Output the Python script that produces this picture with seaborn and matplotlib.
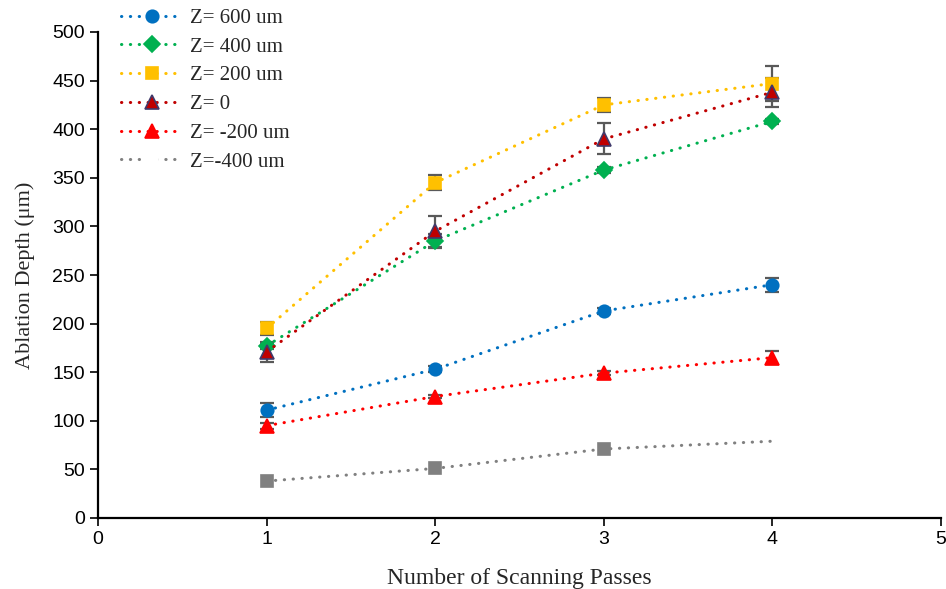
import matplotlib
matplotlib.use("Agg")
import matplotlib.pyplot as plt
import seaborn as sns
import pandas as pd

passes = [1, 2, 3, 4]
labels = ["Z= 600 um", "Z= 400 um", "Z= 200 um", "Z= 0", "Z= -200 um", "Z=-400 um"]
z600 = [111, 153, 213, 240]
z400 = [177, 285, 358, 408]
z200 = [195, 345, 425, 447]
z0 = [171, 295, 390, 438]
zm200 = [95, 125, 149, 165]
zm400 = [38, 51, 71, 79]
err600 = [7, 3, 3, 7]
err400 = [3, 7, 3, 3]
err200 = [7, 8, 7, 18]
err0 = [10, 16, 16, 15]
errm200 = [3, 2, 2, 7]
errm400 = [0, 0, 0, 0]

values = [z600, z400, z200, z0, zm200, zm400]
errors = [err600, err400, err200, err0, errm200, errm400]
colors = ["#0070C0", "#00B050", "#FFC000", "#C00000", "#FF0000", "#808080"]
markers = ["o", "D", "s", "^", "^", "s"]
msizes = [9, 8, 8.5, 9.5, 9.5, 8.5]
edgecolors = ["#0070C0", "#00B050", "#FFC000", "#403A6B", "#FF0000", "#808080"]

sns.set_style("white")
plt.rcParams["font.family"] = ["Liberation Serif", "DejaVu Serif"]

fig = plt.figure(figsize=(9.46, 5.89), dpi=100)
ax = fig.add_axes([98 / 946, 1 - 518 / 589, (941 - 98) / 946, (518 - 32) / 589])

dot = (0, (0.1, 2.8))
for i in range(6):
    df = pd.DataFrame({"x": passes, "y": values[i]})
    if any(errors[i]):
        ax.errorbar(passes, values[i], yerr=errors[i], fmt="none", ecolor="#595959",
                    elinewidth=1.6, capsize=5, capthick=1.6, zorder=2)
    kw = {}
    if i == 5:
        kw["markevery"] = [0, 1, 2]
    sns.lineplot(data=df, x="x", y="y", ax=ax, color=colors[i], marker=markers[i],
                 markersize=msizes[i], markeredgecolor=edgecolors[i], markeredgewidth=1.2,
                 linestyle=dot, linewidth=2.2, dash_capstyle="round", zorder=3,
                 label=labels[i], **kw)

ax.set_xlim(0, 5)
ax.set_ylim(0, 500)
ax.set_xticks(range(0, 6))
ax.set_yticks(range(0, 501, 50))
for s in ["top", "right"]:
    ax.spines[s].set_visible(False)
for s in ["left", "bottom"]:
    ax.spines[s].set_color("black")
    ax.spines[s].set_linewidth(1.6)
ax.tick_params(axis="both", which="major", direction="out", length=6, width=1.2,
               colors="black", labelsize=14, left=True, bottom=True)
for lab in ax.get_xticklabels() + ax.get_yticklabels():
    lab.set_fontfamily("Liberation Sans")
ax.set_xlabel("Number of Scanning Passes", fontsize=17, labelpad=14)
ax.set_ylabel("Ablation Depth (μm)", fontsize=16, labelpad=12)
ax.grid(False)

leg = ax.legend(loc="upper left", bbox_to_anchor=(113 / 946, 1.0), bbox_transform=fig.transFigure,
                frameon=False, fontsize=15, handlelength=2.9, handletextpad=0.4,
                labelspacing=0.44, borderaxespad=0.0)
gray_handle = leg.legend_handles[5]
gray_handle.set_markerfacecolor("white")
gray_handle.set_markeredgecolor("white")

fig.savefig("out.png", dpi=100)
